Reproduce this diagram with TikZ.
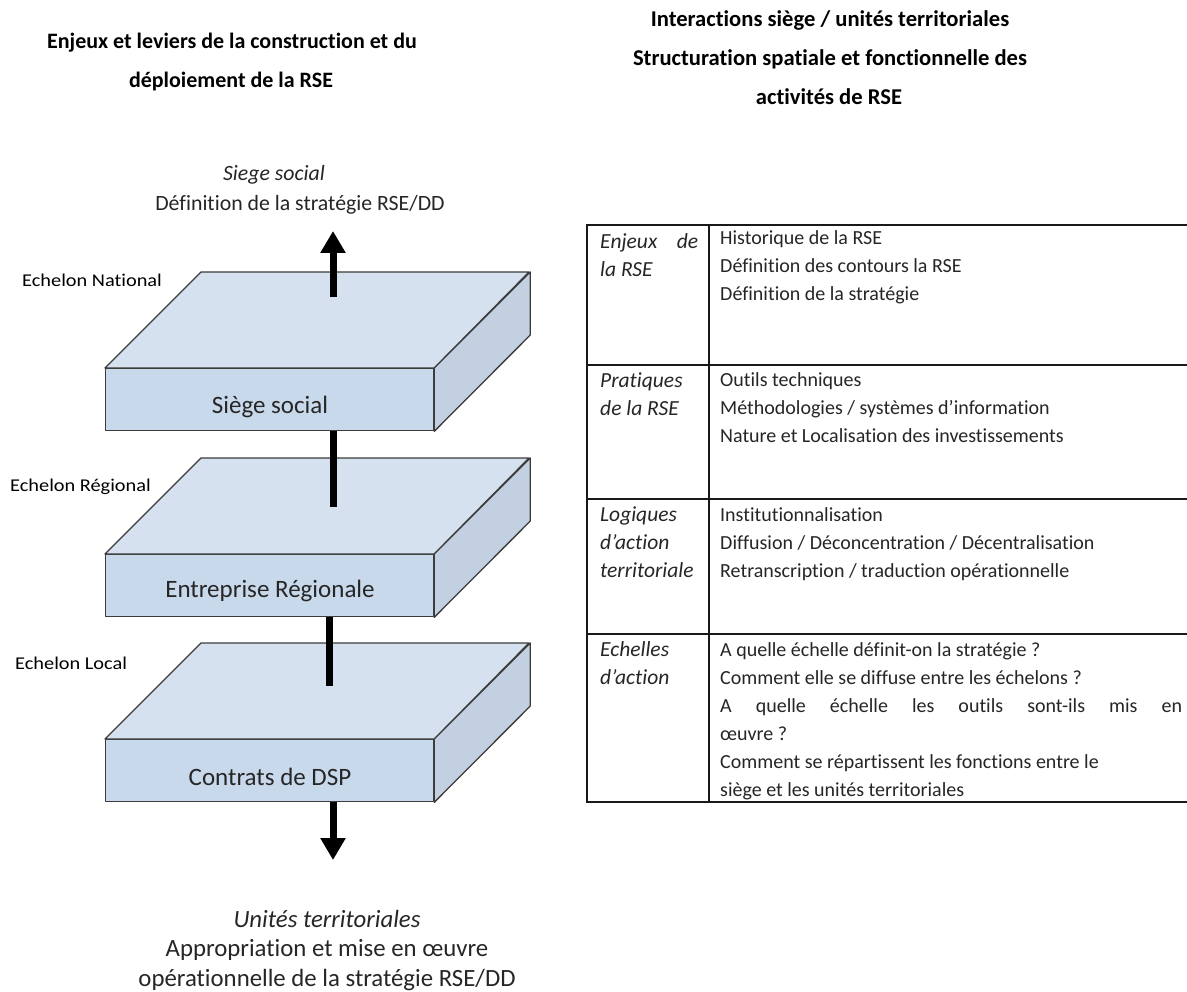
\documentclass[tikz,border=0pt]{standalone}
\usepackage{fontspec}
\setmainfont{Carlito}[Ligatures={TeX,NoCommon}]
\usetikzlibrary{arrows.meta}
\definecolor{topc}{HTML}{D5E1EE}
\definecolor{frontc}{HTML}{C9D9EC}
\definecolor{sidec}{HTML}{C3D0E1}
\definecolor{edgec}{HTML}{3C3C3C}
\definecolor{txt}{HTML}{262626}
\begin{document}
\begin{tikzpicture}[x=1pt,y=-1pt,
  face/.style={draw=edgec,line width=1.3pt,line join=round},
  frontface/.style={face,fill=frontc,minimum width=328pt,minimum height=62pt,inner sep=0pt,anchor=north west},
  slablabel/.style={font=\fontsize{25}{28}\selectfont,text=txt,inner sep=0pt},
  echelon/.style={font=\fontsize{18}{20}\selectfont,text=black,inner sep=0pt,anchor=west},
  title/.style={font=\bfseries\fontsize{22}{26}\selectfont,text=black,inner sep=0pt},
  titler/.style={font=\bfseries\fontsize{22.6}{26}\selectfont,text=black,inner sep=0pt},
  sidetext/.style={font=\fontsize{21.8}{24}\selectfont,text=txt,inner sep=0pt},
  bottext/.style={font=\fontsize{24.8}{28}\selectfont,text=txt,inner sep=0pt},
  link/.style={line width=7pt,black},
  linkarrow/.style={link,-{Triangle[width=24pt,length=22pt]}},
  tline/.style={line width=1.4pt,black!90},
  cell/.style={inner sep=0pt,anchor=north west,align=left,font=\fontsize{20}{28}\selectfont,text=txt},
  headcell/.style={cell,font=\itshape\fontsize{21.5}{28}\selectfont}]
\useasboundingbox (0,0) rectangle (1187,992);
\fill[white] (0,0) rectangle (1187,992);

% titles
\node[title] (tl1) at (232,43) {Enjeux et leviers de la construction et du};
\node[title] (tl2) at (231,82) {déploiement de la RSE};
\node[titler] (tr1) at (830,20) {Interactions siège / unités territoriales};
\node[titler] (tr2) at (830,59) {Structuration spatiale et fonctionnelle des};
\node[titler] (tr3) at (829,97) {activités de RSE};

% top text
\node[sidetext,font=\itshape\fontsize{21.8}{24}\selectfont] (ss) at (274,175) {Siege social};
\node[sidetext] (def) at (300,205) {Définition de la stratégie RSE/DD};

% slabs
\foreach \n/\yt in {1/272,2/458,3/643}{
  \node[frontface] (s\n) at (105,\yt+96) {};
  \draw[face,fill=topc] (s\n.north west) -- ++(96,-96) -- ++(328,0) -- (s\n.north east) -- cycle;
  \draw[face,fill=sidec] (s\n.north east) -- ++(96,-96) -- ++(0,63) -- (s\n.south east) -- cycle;
}
\node[slablabel] (l1) at (270,407) {Siège social};
\node[slablabel] (l2) at (270,591) {Entreprise Régionale};
\node[slablabel] (l3) at (270,777) {Contrats de DSP};

\node[echelon] (e1) at (22,280) {\scalebox{1.13}[1]{Echelon National}};
\node[echelon] (e2) at (10,487) {\scalebox{1.13}[1]{Echelon Régional}};
\node[echelon] (e3) at (15,663) {\scalebox{1.13}[1]{Echelon Local}};

% connectors
\coordinate (a0) at (333,297);
\coordinate (a1) at (333,231);
\draw[linkarrow] (a0) -- (a1);
\coordinate (m1) at (333,507);
\draw[link] (s1.south -| m1) -- (m1);
\coordinate (m2) at (329,686);
\draw[link] (s2.south -| m2) -- (m2);
\coordinate (b1) at (333,860);
\draw[linkarrow] (s3.south -| b1) -- (b1);

% bottom text
\node[bottext,font=\itshape\fontsize{24.8}{28}\selectfont] (ut) at (327,919) {Unités territoriales};
\node[bottext] (ap1) at (327,950) {Appropriation et mise en œuvre};
\node[bottext] (ap2) at (327,980) {opérationnelle de la stratégie RSE/DD};

% table
\draw[tline] (1187,225) -- (587,225) -- (587,802) -- (1187,802);
\draw[tline] (587,365) -- (1187,365);
\draw[tline] (587,499) -- (1187,499);
\draw[tline] (587,634) -- (1187,634);
\draw[tline] (709,225) -- (709,802);

\node[headcell] (h1) at (600,232) {\rule{0pt}{16pt}\makebox[98pt][s]{Enjeux de}\\la RSE};
\node[headcell] (h2) at (600,371) {\rule{0pt}{16pt}Pratiques\\de la RSE};
\node[headcell] (h3) at (600,505) {\rule{0pt}{16pt}Logiques\\d’action\\territoriale};
\node[headcell] (h4) at (600,640) {\rule{0pt}{16pt}Echelles\\d’action};

\node[cell] (c1) at (720,228) {\rule{0pt}{16pt}Historique de la RSE\\Définition des contours la RSE\\Définition de la stratégie};
\node[cell] (c2) at (720,370) {\rule{0pt}{16pt}Outils techniques\\Méthodologies / systèmes d’information\\Nature et Localisation des investissements};
\node[cell] (c3) at (720,505) {\rule{0pt}{16pt}Institutionnalisation\\Diffusion / Déconcentration / Décentralisation\\Retranscription / traduction opérationnelle};
\node[cell] (c4) at (720,640) {\rule{0pt}{16pt}A quelle échelle définit-on la stratégie ?\\Comment elle se diffuse entre les échelons ?\\\makebox[462pt][s]{A quelle échelle les outils sont-ils mis en}\\œuvre ?\\Comment se répartissent les fonctions entre le\\siège et les unités territoriales};
\end{tikzpicture}
\end{document}
